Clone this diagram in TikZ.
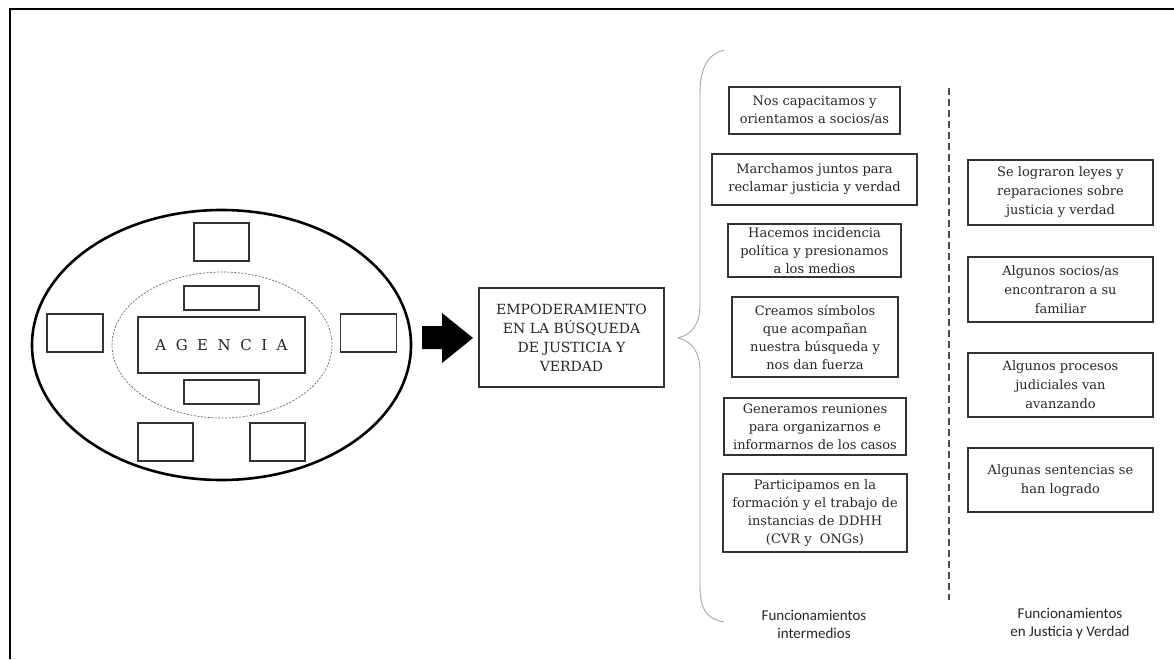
\documentclass[tikz,border=0pt]{standalone}
\usepackage{fontspec}
\setmainfont{DejaVu Serif}
\newfontfamily\calibri{Carlito}

\begin{document}
\begin{tikzpicture}[x=1pt,y=-1pt,
  caja/.style={draw=black!80, line width=1.2pt, inner sep=0pt, align=center, text=black!85,
    font=\fontsize{13}{18}\selectfont},
  vacia/.style={draw=black!80, line width=1.3pt, inner sep=0pt},
  pie/.style={align=center, text=black!85, font=\calibri\fontsize{15}{18}\selectfont}]
\useasboundingbox (0,0) rectangle (1174,659);
\draw[line width=2pt] (10,659) -- (10,9) -- (1174,9);

% agencia
\draw[line width=2.6pt] (221.5,345) ellipse [x radius=189.5, y radius=135];
\draw[black!60, line width=0.7pt, dash pattern=on 2pt off 1.5pt] (222,345) ellipse [x radius=110, y radius=73];
\node[vacia, minimum width=167, minimum height=56, text=black!85, font=\fontsize{15}{20}\selectfont] (agencia) at (221.5,345)
  {A\hspace{9.5pt}G\hspace{9.5pt}E\hspace{9.5pt}N\hspace{9.5pt}C\hspace{9.5pt}I\hspace{9.5pt}A};
\node[vacia, minimum width=75, minimum height=24] (arriba) at (221.5,298) {};
\node[vacia, minimum width=75, minimum height=24] (abajo) at (221.5,392) {};
\node[vacia, minimum width=55, minimum height=38] (n1) at (221.5,242) {};
\node[vacia, minimum width=56, minimum height=38] (n2) at (75,333) {};
\node[vacia, minimum width=56, minimum height=38] (n3) at (368.5,333) {};
\node[vacia, minimum width=55, minimum height=38] (n4) at (165.5,442) {};
\node[vacia, minimum width=55, minimum height=38] (n5) at (277.5,442) {};

% flecha
\fill (422,326) -- (442,326) -- (442,313) -- (473,338) -- (442,363) -- (442,349) -- (422,349) -- cycle;

\node[caja, minimum width=185, minimum height=99, font=\fontsize{14}{19}\selectfont] (empo) at (571.5,337.5)
  {EMPODERAMIENTO\\EN LA BÚSQUEDA\\DE JUSTICIA Y\\VERDAD};

% llave
\draw[gray!70, line width=0.9pt] (724,50) .. controls (706,55) and (700,70) .. (700,95) -- (700,305)
  .. controls (700,326) and (690,335) .. (678,338) .. controls (690,341) and (700,350) .. (700,371)
  -- (700,585) .. controls (700,610) and (706,618) .. (724,622);

% funcionamientos intermedios
\node[caja, minimum width=171, minimum height=47] (m1) at (814.5,110.5) {Nos capacitamos y\\orientamos a socios/as};
\node[caja, minimum width=205, minimum height=51] (m2) at (814.5,179.5) {Marchamos juntos para\\reclamar justicia y verdad};
\node[caja, minimum width=173, minimum height=53] (m3) at (814.5,250.5) {Hacemos incidencia\\política y presionamos\\a los medios};
\node[caja, minimum width=166, minimum height=80] (m4) at (815,337) {Creamos símbolos\\que acompañan\\nuestra búsqueda y\\nos dan fuerza};
\node[caja, minimum width=182, minimum height=57] (m5) at (815,426.5) {Generamos reuniones\\para organizarnos e\\informarnos de los casos};
\node[caja, minimum width=184, minimum height=78] (m6) at (815,513) {Participamos en la\\formación y el trabajo de\\instancias de DDHH\\(CVR y\ \ ONGs)};

\draw[black!70, line width=1.3pt, dash pattern=on 7pt off 4pt] (949,88) -- (949,600);

% funcionamientos en justicia y verdad
\node[caja, minimum width=185, minimum height=65, font=\fontsize{13}{19}\selectfont] (r1) at (1060.5,192.5) {Se lograron leyes y\\reparaciones sobre\\justicia y verdad};
\node[caja, minimum width=185, minimum height=65, font=\fontsize{13}{19}\selectfont] (r2) at (1060.5,289.5) {Algunos socios/as\\encontraron a su\\familiar};
\node[caja, minimum width=185, minimum height=64, font=\fontsize{13}{19}\selectfont] (r3) at (1060.5,385) {Algunos procesos\\judiciales van\\avanzando};
\node[caja, minimum width=185, minimum height=64, font=\fontsize{13}{19}\selectfont] (r4) at (1060.5,480) {Algunas sentencias se\\han logrado};

\node[pie] (pie1) at (814,624) {Funcionamientos\\intermedios};
\node[pie] (pie2) at (1070,624) {Funcionamientos\\en Justicia y Verdad};
\end{tikzpicture}
\end{document}
